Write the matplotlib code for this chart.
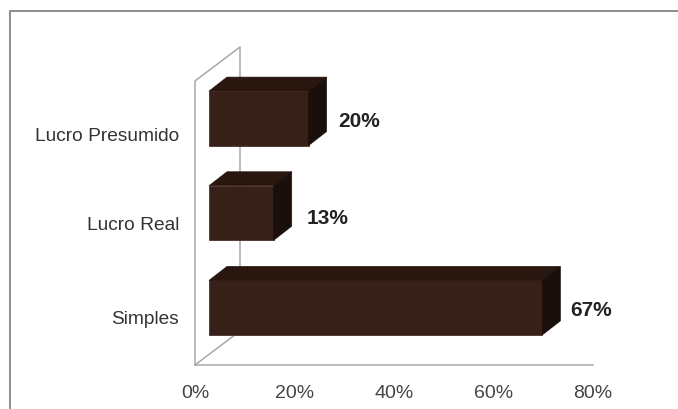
import matplotlib
matplotlib.use('Agg')
import matplotlib.pyplot as plt
from matplotlib.patches import Polygon

plt.rcParams['font.family'] = ['Liberation Sans', 'DejaVu Sans']

categories = ['Simples', 'Lucro Real', 'Lucro Presumido']
values = [67, 13, 20]
x_ticks = [0, 20, 40, 60, 80]

W, H = 678, 409
fig = plt.figure(figsize=(W/100, H/100), dpi=100)

#Outer border of the chart area
bg = fig.add_axes([0, 0, 1, 1])
bg.set_xlim(0, W)
bg.set_ylim(H, 0)
bg.axis('off')
bg.plot([10, 10, 678], [409, 11, 11], color='#8c8c8c', lw=1.4)

#Plot area, pixel box of the front of the floor and wall
x0, x1, y0, y1 = 195, 593, 365, 81
ax = fig.add_axes([x0/W, 1-y0/H, (x1-x0)/W, (y0-y1)/H])
ax.set_xlim(0, 80)
ax.set_ylim(0, 3)
ax.axis('off')

px = 80/(x1-x0)
py = 3/(y0-y1)

#Shift of the 3D look, in pixels
wall_dx, wall_dy = 45, 34
front_dx, front_dy = 14, 10
depth_dx, depth_dy = 18, 14
bar_h = 0.575

#Small nudges of the labels, in pixels
cat_shift = [-2, -3, -8]
val_shift_x = [-2, 3, 0]
val_shift_y = [-7, -10, -7]

def add_poly(pts, color):
    ax.add_patch(Polygon(pts, closed=True, clip_on=False, fc=color, ec=color, lw=0.5, zorder=3))

#Wall and floor lines
wx, wy = wall_dx*px, wall_dy*py
line_kw = dict(color='#a8a8a8', lw=1.1, clip_on=False)
ax.plot([0, 0, wx, wx], [0, 3, 3+wy, wy], **line_kw)
ax.plot([0, wx], [0, wy], **line_kw)
ax.plot([0, 80], [0, 0], **line_kw)

#Bars drawn as three faces each
for i, v in enumerate(values):
    xa = front_dx*px
    xb = xa + v
    ya = i + 0.5 - bar_h/2 + front_dy*py
    yb = ya + bar_h
    dx, dy = depth_dx*px, depth_dy*py
    add_poly([(xa, ya), (xb, ya), (xb, yb), (xa, yb)], '#372017')
    add_poly([(xa, yb), (xb, yb), (xb+dx, yb+dy), (xa+dx, yb+dy)], '#29160f')
    add_poly([(xb, ya), (xb+dx, ya+dy), (xb+dx, yb+dy), (xb, yb)], '#1a0f0b')
    ax.text(xb + dx + (12 + val_shift_x[i])*px, i + 0.5 + (front_dy + val_shift_y[i])*py + 0.045,
            '%d%%' % v, fontsize=15, fontweight='bold', color='#222222', ha='left', va='center')
    ax.text(-16*px, i + 0.5 + cat_shift[i]*py, categories[i], fontsize=13.8, color='#333333',
            ha='right', va='center')

for t in x_ticks:
    ax.text(t, -28*py, '%d%%' % t, fontsize=14, color='#444444', ha='center', va='center')

plt.savefig('out.png', dpi=100)
